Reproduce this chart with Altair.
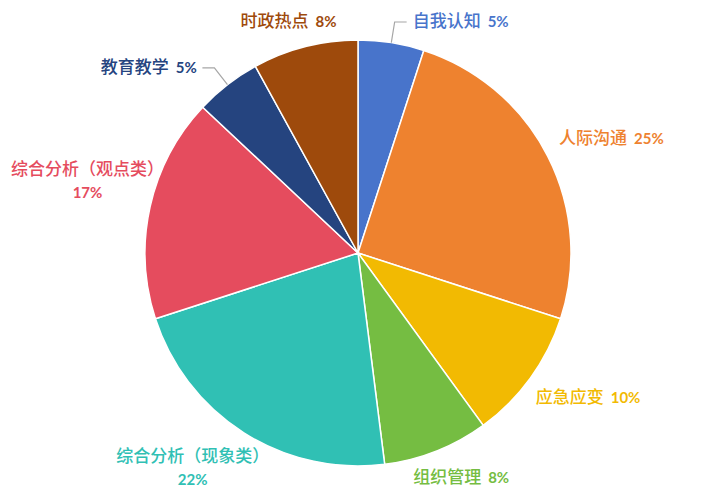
import math
import altair as alt
import pandas as pd

# ---- data ----
categories = ["自我认知", "人际沟通", "应急应变", "组织管理",
              "综合分析（现象类）", "综合分析（观点类）", "教育教学", "时政热点"]
shares = [5, 25, 10, 8, 22, 17, 5, 8]
pct_labels = ["5%", "25%", "10%", "8%", "22%", "17%", "5%", "8%"]
colors = ["#4874CB", "#EE822F", "#F2BA02", "#75BD42",
          "#30C0B4", "#E54C5E", "#25447F", "#9E4A0C"]

# ---- layout ----
W, H = 693, 484
CX, CY = 350, 245
R = 213
NAME_FS = 17
PCT_FS = 15
GAP = 7
LABEL_R = 232
LEADER_R = 1.10 * R
EDGE = 3
TOP_MIN = 14  # smallest distance of a label's centre from the top edge


def pct_width(s):
    w = 0.0
    for ch in s:
        w += 0.80 * PCT_FS if ch == "%" else 0.58 * PCT_FS
    return w


def clip(v):
    return max(-1.0, min(1.0, v))


arc_df = pd.DataFrame({"category": categories, "share": shares,
                       "idx": list(range(len(categories)))})

total = float(sum(shares))
name_rows, pct_left_rows, pct_center_rows, leader_rows = [], [], [], []
cum = 0.0
for i, (cat, v, p) in enumerate(zip(categories, shares, pct_labels)):
    mid = (cum + v / 2.0) / total * 2 * math.pi
    cum += v
    s, c = math.sin(mid), math.cos(mid)
    name_w = len(cat) * NAME_FS
    pw = pct_width(p)
    if v < 6:
        sx, sy = R * s, R * c
        bx, by = LEADER_R * s, min(LEADER_R * c, CY - TOP_MIN)
        d = 1 if s > 0 else -1
        ex = bx + d * 12
        leader_rows += [
            {"category": cat, "step": 0, "x": sx, "y": sy},
            {"category": cat, "step": 1, "x": bx, "y": by},
            {"category": cat, "step": 2, "x": ex, "y": by},
        ]
        tw = name_w + GAP + pw
        left = ex + 6 if d > 0 else ex - 6 - tw
        name_rows.append({"category": cat, "label": cat, "x": left, "y": by})
        pct_left_rows.append({"category": cat, "label": p,
                              "x": left + name_w + GAP, "y": by})
    else:
        two = len(cat) > 6
        w = max(name_w, pw) if two else name_w + GAP + pw
        h = 41 if two else 18
        cx = LABEL_R * s + w / 2 * s
        cy = LABEL_R * c + h / 2 * clip(6 * c)
        # keep the whole label inside the drawing area
        cx = max(-CX + w / 2 + EDGE, min(W - CX - w / 2 - EDGE, cx))
        top_lim = CY - TOP_MIN - (h - 18) / 2
        cy = max(-(H - CY) + h / 2 + EDGE, min(top_lim, cy))
        if two:
            name_rows.append({"category": cat, "label": cat,
                              "x": cx - name_w / 2, "y": cy + 11.5})
            pct_center_rows.append({"category": cat, "label": p,
                                    "x": cx, "y": cy - 11.5})
        else:
            left = cx - w / 2
            name_rows.append({"category": cat, "label": cat, "x": left, "y": cy})
            pct_left_rows.append({"category": cat, "label": p,
                                  "x": left + name_w + GAP, "y": cy})

color_scale = alt.Scale(domain=categories, range=colors)
xs = alt.Scale(domain=[-CX, W - CX], nice=False, zero=False)
ys = alt.Scale(domain=[-(H - CY), CY], nice=False, zero=False)

arcs = alt.Chart(arc_df).mark_arc(
    outerRadius=R, stroke="white", strokeWidth=1.5
).encode(
    theta=alt.Theta("share:Q", stack=True),
    color=alt.Color("category:N", scale=color_scale, legend=None),
    order=alt.Order("idx:Q"),
    x=alt.value(CX),
    y=alt.value(CY),
)

leaders = alt.Chart(pd.DataFrame(leader_rows)).mark_line(
    color="#A6A6A6", strokeWidth=1.2
).encode(
    x=alt.X("x:Q", scale=xs, axis=None),
    y=alt.Y("y:Q", scale=ys, axis=None),
    detail="category:N",
    order=alt.Order("step:Q"),
)

names = alt.Chart(pd.DataFrame(name_rows)).mark_text(
    align="left", baseline="middle", font="Noto Sans CJK SC",
    fontSize=NAME_FS, fontWeight=500
).encode(
    x=alt.X("x:Q", scale=xs, axis=None),
    y=alt.Y("y:Q", scale=ys, axis=None),
    text="label:N",
    color=alt.Color("category:N", scale=color_scale, legend=None),
)

pct_left = alt.Chart(pd.DataFrame(pct_left_rows)).mark_text(
    align="left", baseline="middle", font="Lato", fontWeight="bold",
    fontSize=PCT_FS
).encode(
    x=alt.X("x:Q", scale=xs, axis=None),
    y=alt.Y("y:Q", scale=ys, axis=None),
    text="label:N",
    color=alt.Color("category:N", scale=color_scale, legend=None),
)

pct_center = alt.Chart(pd.DataFrame(pct_center_rows)).mark_text(
    align="center", baseline="middle", font="Lato", fontWeight="bold",
    fontSize=PCT_FS
).encode(
    x=alt.X("x:Q", scale=xs, axis=None),
    y=alt.Y("y:Q", scale=ys, axis=None),
    text="label:N",
    color=alt.Color("category:N", scale=color_scale, legend=None),
)

chart = alt.layer(arcs, leaders, names, pct_left, pct_center).properties(
    width=W, height=H,
    autosize=alt.AutoSizeParams(type="none"),
    padding=0,
).configure_view(stroke=None)

chart.save("out.html", embed_options={"renderer": "svg", "actions": False})
